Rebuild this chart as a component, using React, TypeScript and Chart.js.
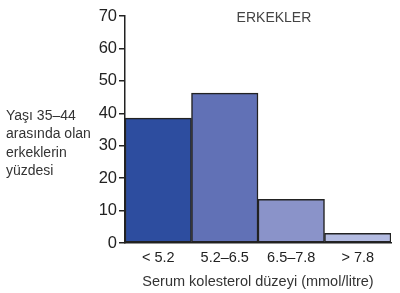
import React, { useEffect, useRef } from "react";
import { Chart, registerables } from "chart.js";

Chart.register(...registerables);

const categories = ["< 5.2", "5.2–6.5", "6.5–7.8", "> 7.8"];
const values = [38.5, 46.2, 13.5, 3];
const barColors = ["#2d4d9f", "#6171b6", "#8a93c9", "#b3bbe1"];
const yTicks = [0, 10, 20, 30, 40, 50, 60, 70];
const chartTitle = "ERKEKLER";
const yLabelLines = ["Yaşı 35–44", "arasında olan", "erkeklerin", "yüzdesi"];
const xLabel = "Serum kolesterol düzeyi (mmol/litre)";

const FONT = "'Liberation Sans', Arial, Helvetica, sans-serif";

const textPlugin = {
  id: "textPlugin",
  afterDraw(chart: any) {
    const { ctx, chartArea } = chart;
    ctx.save();
    ctx.fillStyle = "#444";
    ctx.font = `14px ${FONT}`;
    ctx.textAlign = "center";
    ctx.textBaseline = "middle";
    const w = chartArea.right - chartArea.left;
    ctx.fillText(chartTitle, chartArea.left + w * 0.56, chartArea.top + 2);
    ctx.fillStyle = "#333";
    ctx.textAlign = "left";
    ctx.font = `14px ${FONT}`;
    yLabelLines.forEach((line, i) => {
      ctx.fillText(line, 6, 116 + i * 18.5);
    });
    ctx.restore();
  },
};

export default function App() {
  const ref = useRef<HTMLCanvasElement>(null);
  useEffect(() => {
    document.body.style.margin = "0";
    const chart = new Chart(ref.current!, {
      type: "bar",
      data: {
        labels: categories,
        datasets: [
          {
            data: values,
            backgroundColor: barColors,
            borderColor: "#222",
            borderWidth: 1.5,
            borderSkipped: false,
            barPercentage: 1,
            categoryPercentage: 1,
          },
        ],
      },
      options: {
        animation: false,
        responsive: false,
        layout: { padding: { left: 78, right: 9, top: 16, bottom: 2 } },
        plugins: { legend: { display: false }, tooltip: { enabled: false } },
        scales: {
          x: {
            grid: { display: false, tickLength: 0 },
            border: { display: true, color: "#222", width: 1.5 },
            ticks: { color: "#222", font: { family: FONT, size: 14.5 }, padding: 6 },
            title: {
              display: true,
              text: xLabel,
              color: "#333",
              font: { family: FONT, size: 14.5 },
              padding: { top: 6, bottom: 0 },
            },
            afterFit: (s: any) => {
              s.height = 48;
            },
          },
          y: {
            min: 0,
            max: 70,
            afterBuildTicks: (s: any) => {
              s.ticks = yTicks.map((v) => ({ value: v }));
            },
            grid: {
              display: true,
              drawOnChartArea: false,
              drawTicks: true,
              tickLength: 6,
              color: "#222",
              lineWidth: 1.5,
            },
            border: { display: true, color: "#222", width: 1.5 },
            ticks: { color: "#222", font: { family: FONT, size: 16.5 }, padding: 2 },
            afterFit: (s: any) => {
              s.width = 47;
            },
          },
        },
      },
      plugins: [textPlugin],
    });
    return () => chart.destroy();
  }, []);
  return (
    <div style={{ position: "relative", width: 400, height: 293 }}>
      <canvas ref={ref} width={400} height={293} />
    </div>
  );
}
